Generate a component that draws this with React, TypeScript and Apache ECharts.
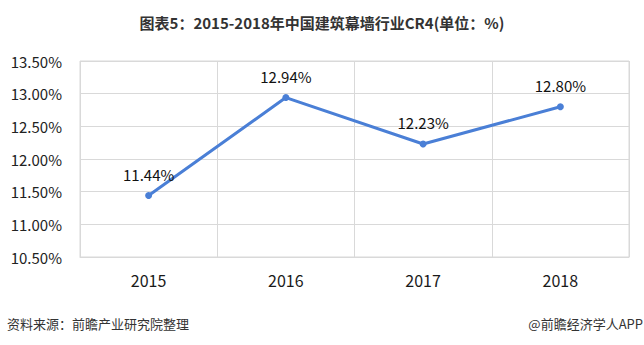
import React, { useEffect, useRef } from "react";
import * as echarts from "echarts";

const categories = ["2015", "2016", "2017", "2018"];
const cr4Values = [11.44, 12.94, 12.23, 12.8];
const yMin = 10.5;
const yMax = 13.5;
const yStep = 0.5;
const titleText = "图表5：2015-2018年中国建筑幕墙行业CR4(单位：%)";
const sourceText = "资料来源：前瞻产业研究院整理";
const brandText = "@前瞻经济学人APP";

export default function App() {
  const ref = useRef<HTMLDivElement>(null);
  useEffect(() => {
    if (!ref.current) return;
    const chart = echarts.init(ref.current, null, { renderer: "svg" });
    const font = "'Noto Sans CJK SC', 'Noto Sans', sans-serif";
    chart.setOption({
      animation: false,
      backgroundColor: "#ffffff",
      title: {
        text: titleText,
        left: "center",
        top: 10,
        textStyle: { fontSize: 15, fontWeight: "bold", color: "#333333", fontFamily: font },
      },
      graphic: [
        {
          type: "text",
          left: 7,
          top: 317,
          style: { text: sourceText, fontSize: 13, fill: "#333333", fontFamily: font },
        },
        {
          type: "text",
          right: 1,
          top: 317,
          style: { text: brandText, fontSize: 13, fill: "#333333", fontFamily: font },
        },
      ],
      grid: {
        left: 80,
        right: 15,
        top: 61,
        bottom: 88,
        show: true,
        borderColor: "#d9d9d9",
        borderWidth: 1,
      },
      xAxis: {
        type: "category",
        data: categories,
        boundaryGap: true,
        axisLine: { show: true, lineStyle: { color: "#d9d9d9" } },
        axisTick: { show: false },
        splitLine: { show: true, lineStyle: { color: "#d9d9d9" } },
        axisLabel: { color: "#1a1a1a", fontSize: 16, margin: 15, fontFamily: font },
      },
      yAxis: {
        type: "value",
        min: yMin,
        max: yMax,
        interval: yStep,
        axisLine: { show: false },
        axisTick: { show: false },
        splitLine: { show: true, lineStyle: { color: "#d9d9d9" } },
        axisLabel: {
          color: "#222222",
          fontSize: 15,
          margin: 18,
          fontFamily: font,
          formatter: (v: number) => v.toFixed(2) + "%",
        },
      },
      series: [
        {
          type: "line",
          data: cr4Values,
          symbol: "circle",
          symbolSize: 7,
          lineStyle: { color: "#4a7fd6", width: 3 },
          itemStyle: { color: "#4a7fd6" },
          label: {
            show: true,
            position: "top",
            distance: 10,
            color: "#111111",
            fontSize: 15,
            fontFamily: font,
            formatter: (p: any) => p.value.toFixed(2) + "%",
          },
        },
      ],
    });
    return () => chart.dispose();
  }, []);
  return (
    <div
      ref={ref}
      style={{ position: "fixed", left: 0, top: 0, width: 644, height: 345 }}
    />
  );
}
